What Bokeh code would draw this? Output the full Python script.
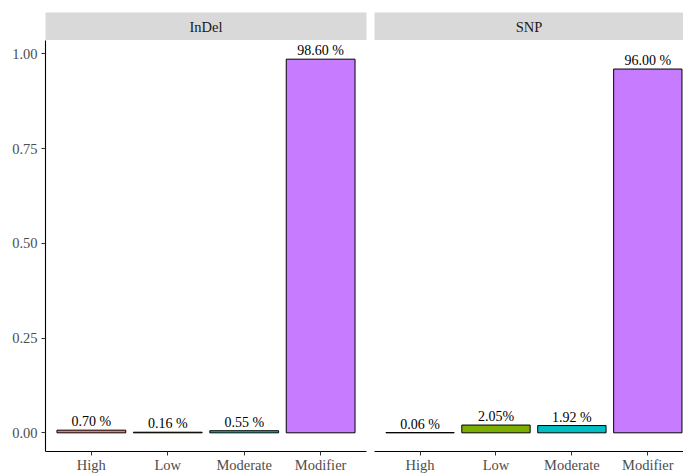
from bokeh.plotting import figure
from bokeh.layouts import row, column
from bokeh.models import Range1d, FixedTicker, NumeralTickFormatter, ColumnDataSource
from bokeh.embed import file_html
from bokeh.resources import INLINE
from bokeh.core.properties import value

categories = ["High", "Low", "Moderate", "Modifier"]
colors = ["#F8766D", "#7CAE00", "#00BFC4", "#C77CFF"]
indel_values = [0.0070, 0.0016, 0.0055, 0.9860]
indel_labels = ["0.70 %", "0.16 %", "0.55 %", "98.60 %"]
snp_values = [0.0006, 0.0205, 0.0192, 0.9600]
snp_labels = ["0.06 %", "2.05%", "1.92 %", "96.00 %"]
panel_names = ["InDel", "SNP"]
y_ticks = [0.0, 0.25, 0.5, 0.75, 1.0]

FONT = "Liberation Serif"
ymin, ymax = -0.0493, 1.0353


def strip(name, width, mbl, mbr):
    s = figure(width=width, height=40, output_backend="svg", toolbar_location=None,
               x_range=Range1d(0, 1), y_range=Range1d(0, 1),
               x_axis_location=None, y_axis_location=None,
               min_border_left=mbl, min_border_right=mbr, min_border_top=12,
               min_border_bottom=0)
    s.grid.visible = False
    s.outline_line_color = None
    s.background_fill_color = "#D9D9D9"
    s.border_fill_color = "white"
    s.text(x=[0.5], y=[0.5], text=[name], text_align="center", text_baseline="middle",
           text_font=value(FONT), text_font_size="14.5px", text_color="#1A1A1A")
    return s


def panel(vals, labels, width, xend, show_y, mbl, mbr):
    p = figure(width=width, height=435, output_backend="svg", toolbar_location=None,
               x_range=Range1d(0.4, xend), y_range=Range1d(ymin, ymax),
               min_border_left=mbl, min_border_right=mbr, min_border_top=0,
               min_border_bottom=22)
    xs = list(range(1, len(categories) + 1))
    src = ColumnDataSource(dict(x=xs, top=vals, color=colors, label=labels))
    p.vbar(x="x", top="top", bottom=0, width=0.9, fill_color="color",
           line_color="black", line_width=1, source=src)
    p.text(x="x", y="top", text="label", source=src, text_align="center",
           text_baseline="bottom", y_offset=-1, text_font=value(FONT),
           text_font_size="14px", text_color="black")
    p.grid.visible = False
    p.outline_line_color = None
    p.background_fill_color = "white"
    p.border_fill_color = "white"
    xa = p.xaxis[0]
    xa.ticker = FixedTicker(ticks=xs)
    xa.major_label_overrides = {i + 1: c for i, c in enumerate(categories)}
    xa.minor_tick_line_color = None
    xa.major_tick_out = 4
    xa.major_tick_in = 0
    xa.major_tick_line_color = "#333333"
    xa.axis_line_color = "black"
    xa.axis_line_width = 1.1
    xa.major_label_text_font = FONT
    xa.major_label_text_font_size = "14.5px"
    xa.major_label_text_color = "#4D4D4D"
    xa.major_label_standoff = 1
    ya = p.yaxis[0]
    if show_y:
        ya.ticker = FixedTicker(ticks=y_ticks)
        ya.formatter = NumeralTickFormatter(format="0.00")
        ya.minor_tick_line_color = None
        ya.major_tick_out = 4
        ya.major_tick_in = 0
        ya.major_tick_line_color = "#333333"
        ya.axis_line_color = "black"
        ya.axis_line_width = 1.1
        ya.major_label_text_font = FONT
        ya.major_label_text_font_size = "14.5px"
        ya.major_label_text_color = "#4D4D4D"
        ya.major_label_standoff = 4
    else:
        ya.visible = False
    return p


s1 = strip(panel_names[0], 370, 45, 4)
p1 = panel(indel_values, indel_labels, 370, 4.6, True, 45, 4)
s2 = strip(panel_names[1], 313, 4, 0)
p2 = panel(snp_values, snp_labels, 313, 4.47, False, 4, 0)
layout = row(column(s1, p1, spacing=0), column(s2, p2, spacing=0), spacing=0)
open("out.html", "w").write(file_html(layout, INLINE))
